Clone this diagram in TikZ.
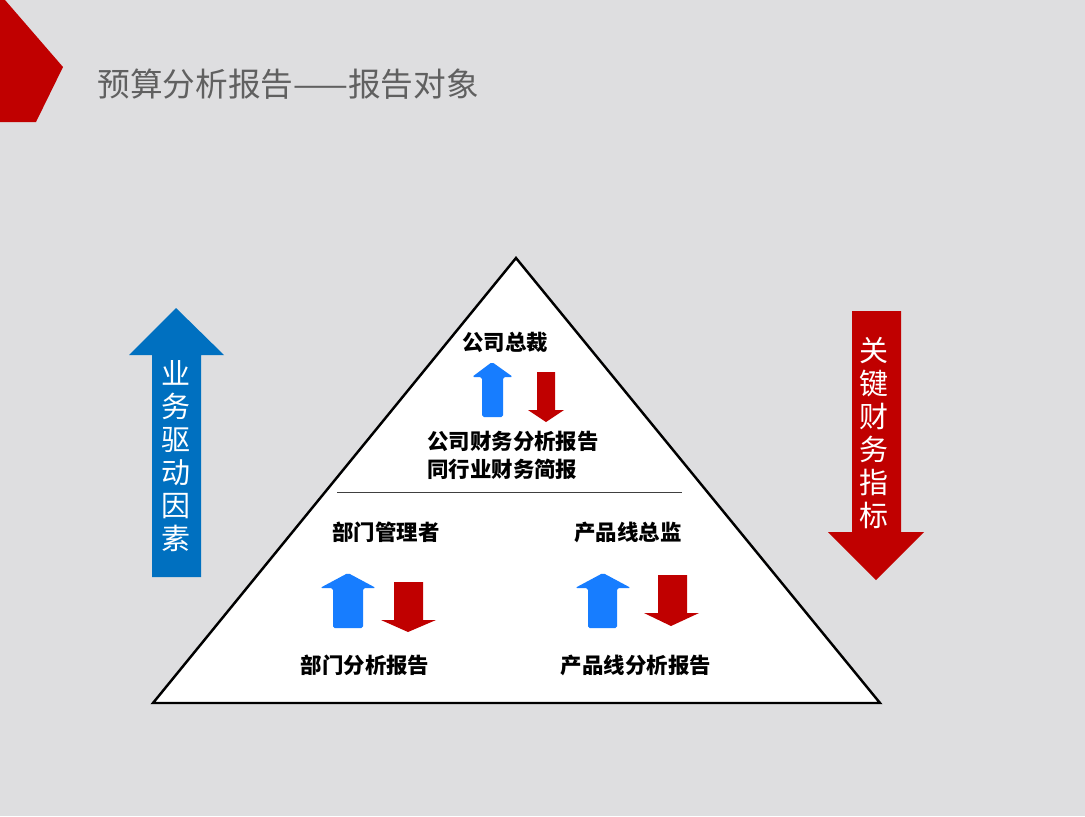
\documentclass[tikz,border=0pt]{standalone}
\usepackage{fontspec}
\setmainfont{Noto Sans CJK SC}
\usetikzlibrary{positioning}
\definecolor{SlideGray}{RGB}{222,222,224}
\definecolor{TitleGray}{RGB}{96,96,96}
\definecolor{DeepRed}{RGB}{192,0,0}
\definecolor{DeepBlue}{RGB}{0,112,192}
\definecolor{BrightBlue}{RGB}{23,125,255}

\begin{document}
\begin{tikzpicture}[
    x=0.02cm,
    y=-0.02cm,
    title/.style={
        anchor=west,
        inner sep=0pt,
        text=TitleGray,
        font=\fontsize{18.6}{20}\selectfont
    },
    role/.style={
        inner sep=0pt,
        font=\fontsize{12.2}{16}\selectfont\bfseries
    },
    vtext/.style={
        inner sep=0pt,
        align=center,
        text=white,
        font=\fontsize{16.5}{18.7}\selectfont
    },
    pyramid/.style={
        draw=black,
        line width=1.4pt,
        fill=white,
        line join=miter
    },
    divider/.style={
        draw=black!75,
        line width=0.5pt
    },
    uparr/.style={
        fill=BrightBlue,
        rounded corners=1pt
    },
    downarr/.style={
        fill=DeepRed
    }
]

% background and corner mark
\fill[SlideGray] (0,0) rectangle (1085,816);
\fill[DeepRed] (0,0) -- (5,0) -- (63,67) -- (36,122) -- (0,122) -- cycle;
\node[title] (heading) at (97,84) {预算分析报告——报告对象};

% side arrows
\fill[DeepBlue] (152,577) -- (152,355) -- (129,355) -- (176,308)
    -- (224,355) -- (201,355) -- (201,577) -- cycle;
\node[vtext] (drivers) at (176,456) {业\\务\\驱\\动\\因\\素};

\fill[DeepRed] (852,311) -- (901,311) -- (901,532) -- (924,532)
    -- (876,580) -- (828,532) -- (852,532) -- cycle;
\node[vtext] (indicators) at (874,433) {关\\键\\财\\务\\指\\标};

% pyramid
\coordinate (apex) at (516,258);
\coordinate (baseR) at (880,703);
\coordinate (baseL) at (153,703);
\draw[pyramid] (apex) -- (baseR) -- (baseL) -- cycle;

\coordinate (divL) at (337,492);
\coordinate (divR) at (682,492);
\draw[divider] (divL) -- (divR);

% top level
\node[role] (ceo) at (505,342) {公司总裁};
\fill[uparr] (482,417) -- (482,377) -- (472,377) -- (492,362)
    -- (513,377) -- (503,377) -- (503,417) -- cycle;
\fill[downarr] (537,372) -- (555,372) -- (555,410) -- (564,410)
    -- (546,422) -- (528,410) -- (537,410) -- cycle;
\node[role, anchor=west, align=left] (corpreport) at (427,455)
    {公司财务分析报告\\同行业财务简报};

% left level
\node[role] (deptmgr) at (386,532) {部门管理者};
\fill[uparr] (333,628) -- (333,588) -- (320,588) -- (348,573)
    -- (376,588) -- (363,588) -- (363,628) -- cycle;
\fill[downarr] (394,582) -- (423,582) -- (423,620) -- (436,620)
    -- (408,632) -- (381,620) -- (394,620) -- cycle;
\node[role] (deptreport) at (365,665) {部门分析报告};

% right level
\node[role] (linehead) at (628,532) {产品线总监};
\fill[uparr] (588,628) -- (588,588) -- (575,588) -- (603,573)
    -- (631,588) -- (617,588) -- (617,628) -- cycle;
\fill[downarr] (658,575) -- (687,575) -- (687,613) -- (699,613)
    -- (671,626) -- (644,613) -- (658,613) -- cycle;
\node[role] (linereport) at (636,665) {产品线分析报告};

\end{tikzpicture}
\end{document}
